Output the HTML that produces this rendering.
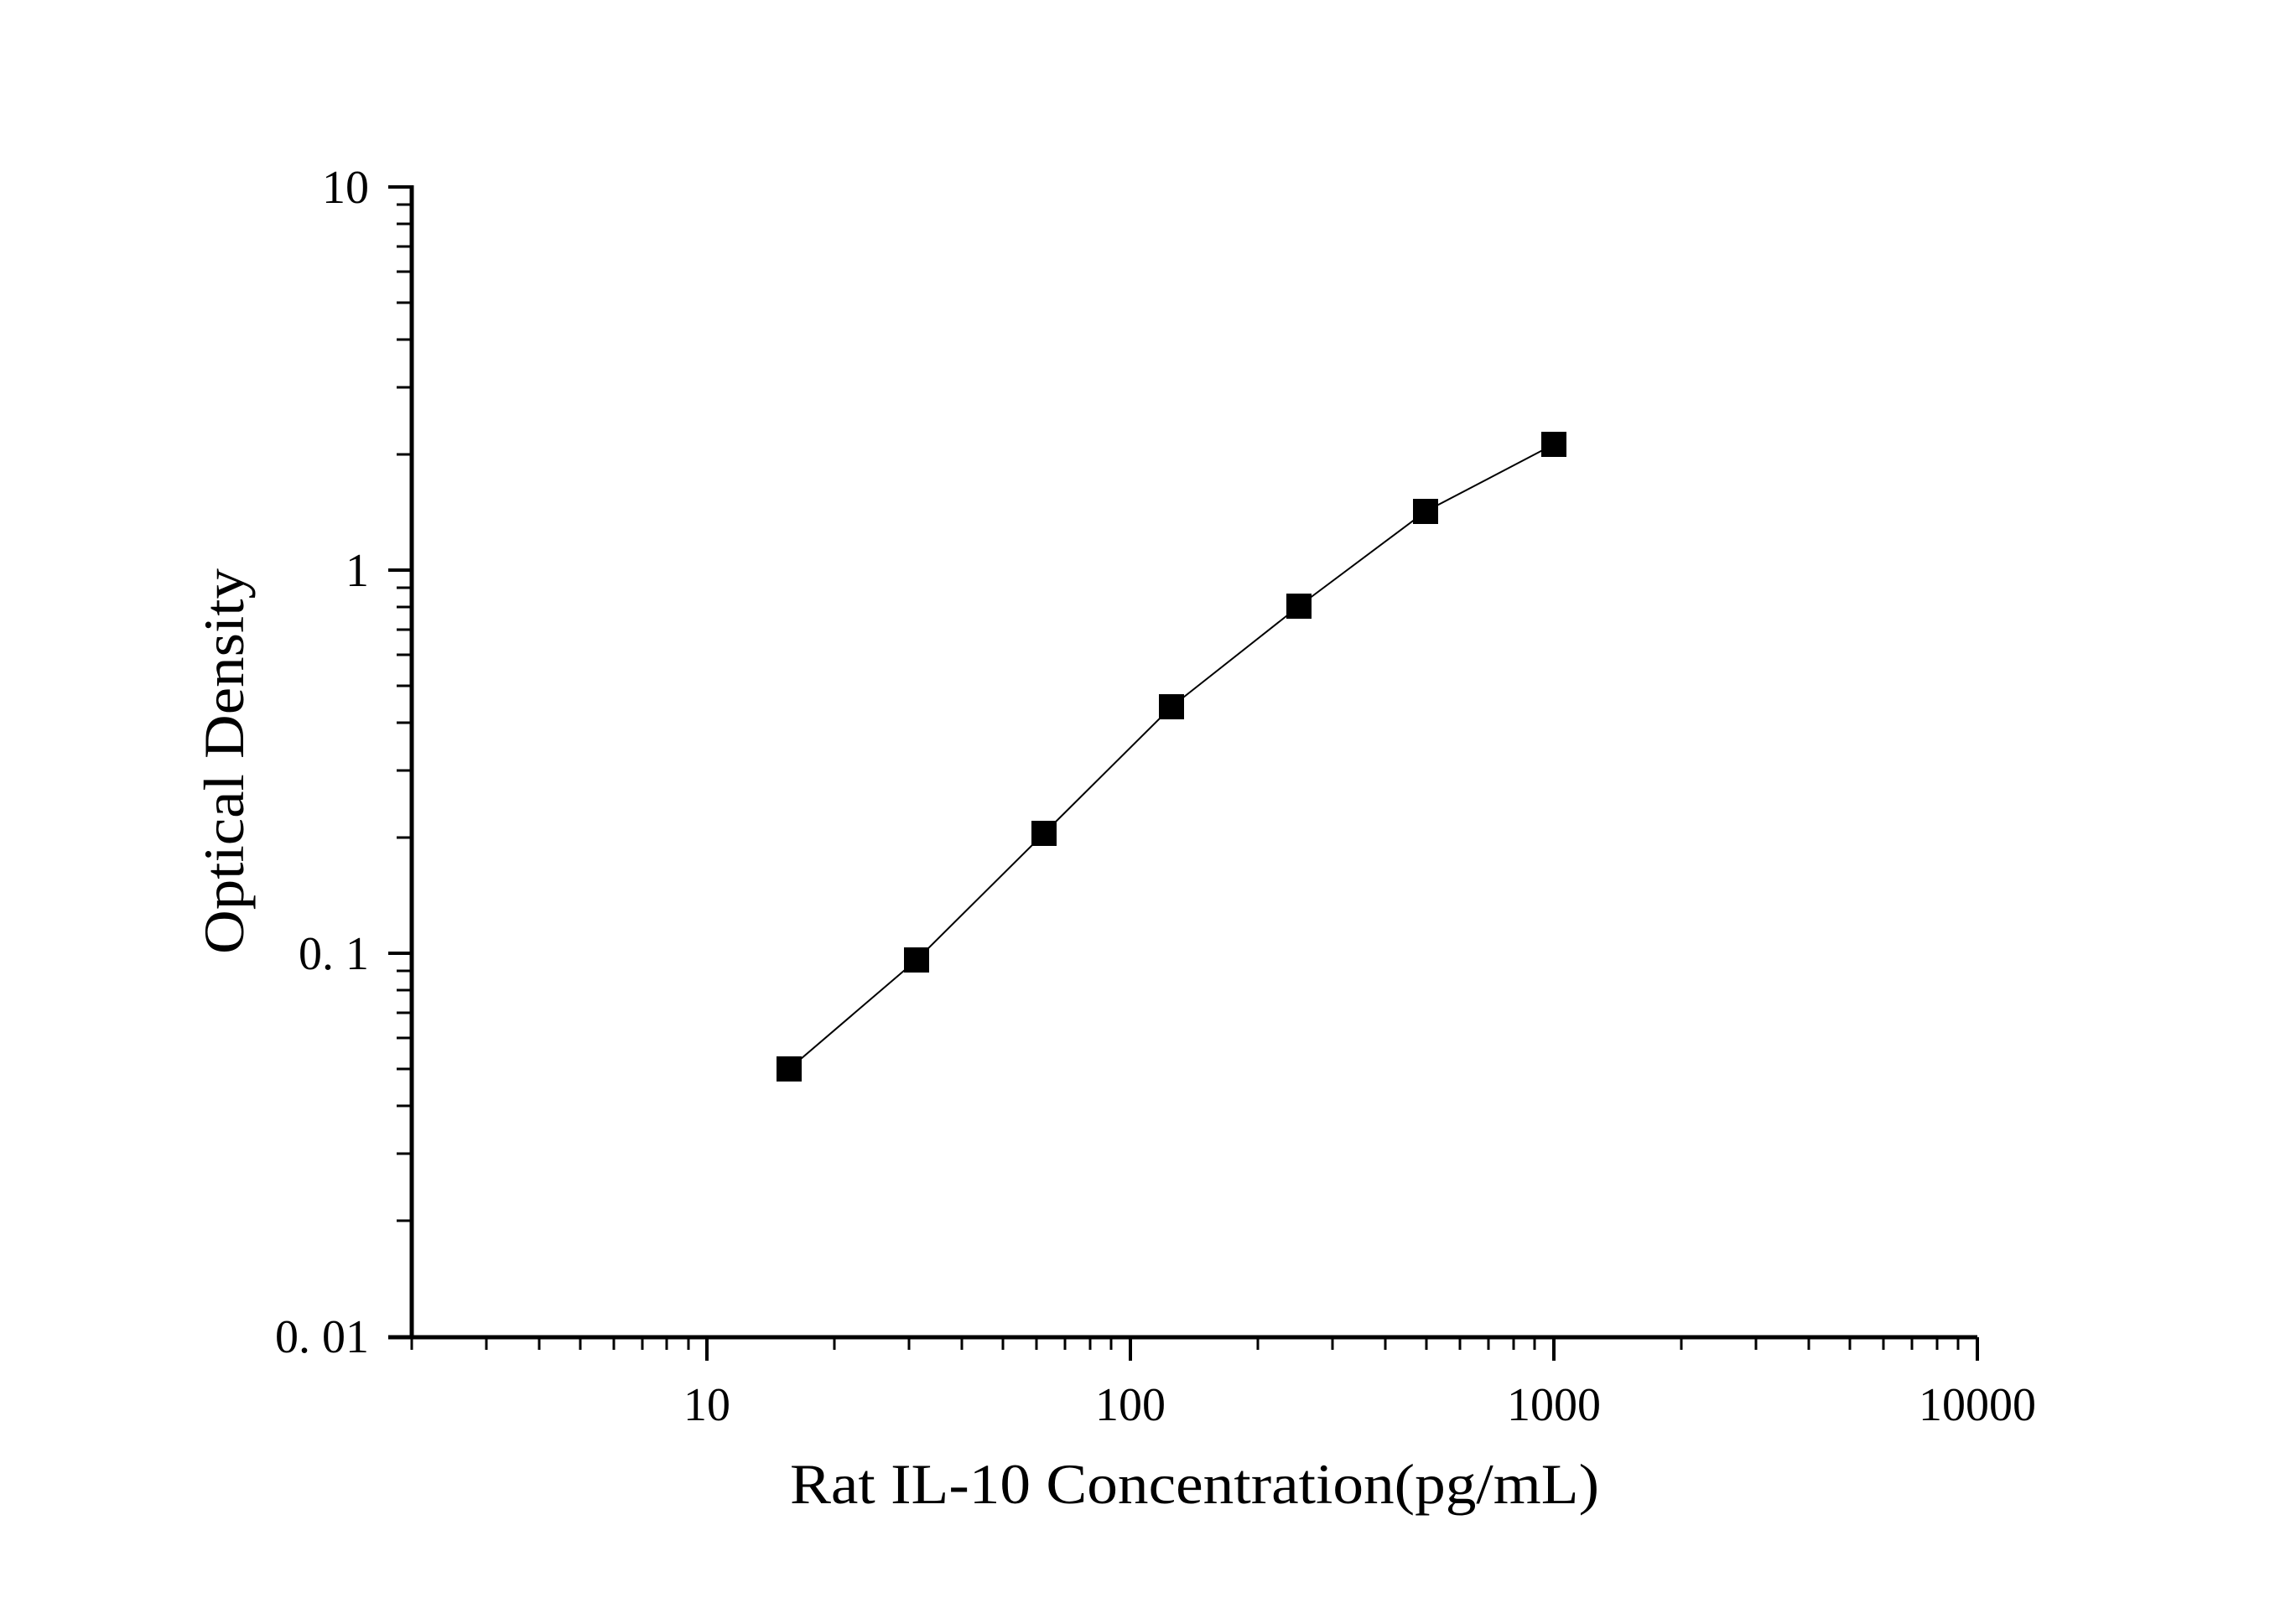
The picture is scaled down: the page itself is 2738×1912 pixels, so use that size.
<!DOCTYPE html>
<html><head><meta charset="utf-8"><style>html,body{margin:0;padding:0;background:#fff}svg{display:block}</style></head>
<body>
<svg width="2738" height="1912" viewBox="0 0 2738 1912" xmlns="http://www.w3.org/2000/svg" font-family="Liberation Serif, serif">
<rect width="2738" height="1912" fill="#fff"/>
<g stroke="#000" fill="none">
<line x1="491" y1="221" x2="491" y2="1597" stroke-width="5"/>
<line x1="463" y1="1595" x2="2358" y2="1595" stroke-width="5"/>
<line x1="463" y1="223" x2="491" y2="223" stroke-width="4"/>
<line x1="463" y1="680" x2="491" y2="680" stroke-width="4"/>
<line x1="463" y1="1137" x2="491" y2="1137" stroke-width="4"/>
<path stroke-width="3" d="
M473 542h18 M473 462h18 M473 405h18 M473 361h18 M473 324h18 M473 294h18 M473 267h18 M473 244h18
M473 999h18 M473 919h18 M473 862h18 M473 818h18 M473 781h18 M473 751h18 M473 724h18 M473 701h18
M473 1456h18 M473 1376h18 M473 1319h18 M473 1275h18 M473 1238h18 M473 1208h18 M473 1181h18 M473 1158h18"/>
<path stroke-width="4" d="M843 1595v28 M1348 1595v28 M1853 1595v28 M2358 1595v28"/>
<path stroke-width="3" d="
M491 1595v15 M580 1595v15 M643 1595v15 M692 1595v15 M732 1595v15 M766 1595v15 M795 1595v15 M821 1595v15
M995 1595v15 M1084 1595v15 M1147 1595v15 M1196 1595v15 M1236 1595v15 M1270 1595v15 M1300 1595v15 M1325 1595v15
M1500 1595v15 M1589 1595v15 M1652 1595v15 M1701 1595v15 M1741 1595v15 M1775 1595v15 M1805 1595v15 M1830 1595v15
M2005 1595v15 M2094 1595v15 M2157 1595v15 M2206 1595v15 M2246 1595v15 M2280 1595v15 M2310 1595v15 M2335 1595v15"/>
<polyline stroke-width="2" points="941,1275 1093,1145 1245,994 1397,843 1549,723 1700,610 1853,530"/>
</g>
<g fill="#000">
<rect x="926" y="1260" width="30" height="30"/>
<rect x="1078" y="1130" width="30" height="30"/>
<rect x="1230" y="979" width="30" height="30"/>
<rect x="1382" y="828" width="30" height="30"/>
<rect x="1534" y="708" width="30" height="30"/>
<rect x="1685" y="595" width="30" height="30"/>
<rect x="1838" y="515" width="30" height="30"/>
</g>
<g font-size="56" text-anchor="end" fill="#000">
<text x="440" y="242">10</text>
<text x="440" y="699">1</text>
<text x="440" y="1156">0. 1</text>
<text x="440" y="1613">0. 01</text>
</g>
<g font-size="56" text-anchor="middle" fill="#000">
<text x="843" y="1694">10</text>
<text x="1348" y="1694">100</text>
<text x="1853" y="1694">1000</text>
<text x="2358" y="1694">10000</text>
</g>
<text x="942" y="1793" font-size="68" textLength="965" lengthAdjust="spacingAndGlyphs" fill="#000">Rat IL-10 Concentration(pg/mL)</text>
<text transform="translate(290,908) rotate(-90)" font-size="68" text-anchor="middle" textLength="460" lengthAdjust="spacingAndGlyphs" fill="#000">Optical Density</text>
</svg>
</body></html>
